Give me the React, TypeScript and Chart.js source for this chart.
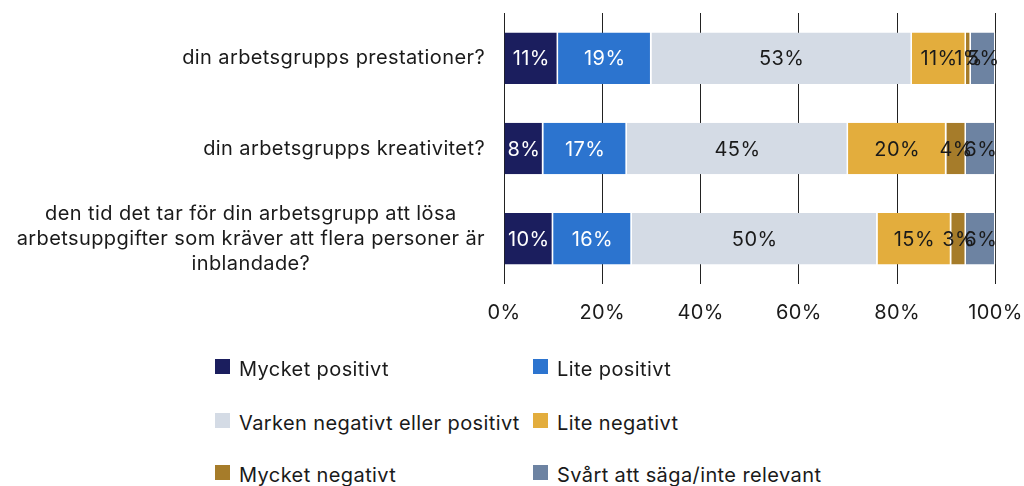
import React, { useEffect, useRef } from "react";
import { Chart, registerables } from "chart.js";

Chart.register(...registerables);

const categories: string[][] = [
  ["din arbetsgrupps prestationer?"],
  ["din arbetsgrupps kreativitet?"],
  [
    "den tid det tar för din arbetsgrupp att lösa",
    "arbetsuppgifter som kräver att flera personer är",
    "inblandade?",
  ],
];

const seriesNames = [
  "Mycket positivt",
  "Lite positivt",
  "Varken negativt eller positivt",
  "Lite negativt",
  "Mycket negativt",
  "Svårt att säga/inte relevant",
];

const mycketPositivt = [11, 8, 10];
const litePositivt = [19, 17, 16];
const varken = [53, 45, 50];
const liteNegativt = [11, 20, 15];
const mycketNegativt = [1, 4, 3];
const svart = [5, 6, 6];

const xTicks = [0, 20, 40, 60, 80, 100];

const colors = ["#1b1e5e", "#2c74cf", "#d4dbe5", "#e3ad3d", "#a67c2a", "#6d83a2"];
const labelColors = ["#ffffff", "#ffffff", "#1a1a1a", "#1a1a1a", "#1a1a1a", "#1a1a1a"];

const FONT = "Inter, Roboto, sans-serif";
const FS = 20;
const LS = "0.4px";

const spacing = {
  id: "spacing",
  beforeDraw(chart: any) {
    chart.ctx.letterSpacing = LS;
  },
};

const segmentLabels = {
  id: "segmentLabels",
  afterDatasetsDraw(chart: any) {
    const ctx = chart.ctx;
    ctx.save();
    ctx.letterSpacing = LS;
    ctx.font = `${FS}px ${FONT}`;
    ctx.textAlign = "center";
    ctx.textBaseline = "middle";
    chart.data.datasets.forEach((ds: any, di: number) => {
      const meta = chart.getDatasetMeta(di);
      meta.data.forEach((el: any, i: number) => {
        const v = ds.data[i];
        ctx.fillStyle = labelColors[di];
        ctx.fillText(`${v}%`, (el.x + el.base) / 2, el.y + 1);
      });
    });
    ctx.restore();
  },
};

const yLabels = {
  id: "yLabels",
  afterDraw(chart: any) {
    const ctx = chart.ctx;
    const y = chart.scales.y;
    const right = chart.chartArea.left - 19;
    ctx.save();
    ctx.letterSpacing = LS;
    ctx.font = `${FS}px ${FONT}`;
    ctx.fillStyle = "#1a1a1a";
    ctx.textAlign = "center";
    ctx.textBaseline = "middle";
    const lh = 25;
    categories.forEach((lines, i) => {
      const cy = y.getPixelForValue(i);
      const w = Math.max(...lines.map((l) => ctx.measureText(l).width));
      const cx = right - w / 2;
      lines.forEach((l, k) => {
        ctx.fillText(l, cx, cy + (k - (lines.length - 1) / 2) * lh);
      });
    });
    ctx.restore();
  },
};

export default function App() {
  const ref = useRef<HTMLCanvasElement>(null);

  useEffect(() => {
    if (!ref.current) return;
    const values = [mycketPositivt, litePositivt, varken, liteNegativt, mycketNegativt, svart];
    const chart = new Chart(ref.current, {
      type: "bar",
      data: {
        labels: categories.map((c) => c.join(" ")),
        datasets: values.map((d, i) => ({
          label: seriesNames[i],
          data: d,
          backgroundColor: colors[i],
          borderColor: "#ffffff",
          borderWidth: { left: 0, right: 1.5, top: 0, bottom: 0 },
          borderSkipped: false,
          categoryPercentage: 1,
          barPercentage: 0.57,
        })),
      },
      options: {
        indexAxis: "y",
        animation: false,
        responsive: true,
        maintainAspectRatio: false,
        layout: { padding: { left: 504, right: 15, top: 13, bottom: 16 } },
        plugins: { legend: { display: false }, tooltip: { enabled: false } },
        scales: {
          x: {
            stacked: true,
            min: 0,
            max: 100,
            afterBuildTicks: (scale: any) => {
              scale.ticks = xTicks.map((v) => ({ value: v }));
            },
            grid: { color: "#222222", lineWidth: 1, tickLength: 0, drawTicks: false },
            border: { display: false },
            ticks: {
              padding: 17,
              color: "#1a1a1a",
              font: { family: FONT, size: FS },
              callback: (v: any) => `${v}%`,
              maxRotation: 0,
            },
          },
          y: {
            stacked: true,
            display: false,
          },
        },
      },
      plugins: [spacing, segmentLabels, yLabels],
    });
    return () => chart.destroy();
  }, []);

  const legendItem = (i: number, left: number, top: number) => (
    <div
      key={i}
      style={{
        position: "absolute",
        left,
        top,
        height: 24,
        display: "flex",
        alignItems: "center",
        fontFamily: FONT,
        fontSize: FS,
        letterSpacing: LS,
        color: "#1a1a1a",
        whiteSpace: "nowrap",
      }}
    >
      <span
        style={{
          display: "inline-block",
          width: 15,
          height: 15,
          background: colors[i],
          marginRight: 9,
          position: "relative",
          top: -3,
        }}
      />
      <span>{seriesNames[i]}</span>
    </div>
  );

  return (
    <div style={{ position: "fixed", left: 0, top: 0, width: 1024, height: 486, background: "#fff", overflow: "hidden" }}>
      <div style={{ position: "absolute", left: 0, top: 0, width: 1039, height: 358 }}>
        <canvas ref={ref} />
      </div>
      {legendItem(0, 215, 357)}
      {legendItem(1, 533, 357)}
      {legendItem(2, 215, 411)}
      {legendItem(3, 533, 411)}
      {legendItem(4, 215, 463)}
      {legendItem(5, 533, 463)}
    </div>
  );
}
